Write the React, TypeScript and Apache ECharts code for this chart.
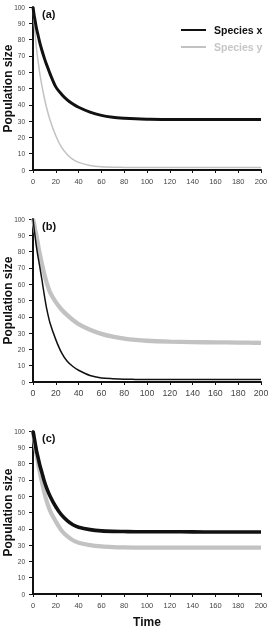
import React, { useEffect, useRef } from "react";
import * as echarts from "echarts";

const time = [0, 1, 2, 3, 4, 5, 6, 8, 10, 12, 15, 20, 25, 30, 35, 40, 50, 60, 70, 80, 90, 100, 120, 140, 160, 180, 200];

// Panel (a)
const aSpeciesX = [100, 95, 91, 87, 84, 81, 78, 73, 68.5, 64.5, 59, 51, 46.5, 43, 40.5, 38.5, 35.5, 33.5, 32.4, 31.8, 31.4, 31.2, 31, 31, 31, 31, 31];
const aSpeciesY = [100, 90, 82, 75, 69, 64, 59, 51, 44, 38, 30.5, 21, 14, 9.5, 6.5, 4.7, 2.8, 2, 1.7, 1.6, 1.5, 1.5, 1.5, 1.5, 1.5, 1.5, 1.5];
// Panel (b)
const bSpeciesX = [100, 94, 88.5, 83, 78.5, 74.5, 70.5, 62, 53, 45, 36, 26, 18, 12.7, 9.5, 7.2, 4, 2.5, 2, 1.7, 1.6, 1.5, 1.5, 1.5, 1.5, 1.5, 1.5];
const bSpeciesY = [100, 97, 93, 90, 86, 82, 78.5, 72, 66, 61, 55, 49, 44.5, 41, 38, 35.5, 32, 29.5, 27.8, 26.6, 25.8, 25.3, 24.8, 24.5, 24.3, 24.2, 24];
// Panel (c)
const cSpeciesX = [100, 96, 92, 88, 85, 82, 79, 74, 69, 65, 60, 53.5, 48.5, 45, 42.5, 41, 39.5, 38.7, 38.4, 38.3, 38.2, 38.2, 38.2, 38.1, 38, 38, 38];
const cSpeciesY = [100, 95, 90, 86, 82, 78, 74.5, 68, 62, 57, 51, 44.5, 39, 35.5, 33, 31.5, 30, 29.2, 28.8, 28.6, 28.5, 28.5, 28.5, 28.5, 28.5, 28.5, 28.5];

const panelLabels = ["(a)", "(b)", "(c)"];
const xTickFont = [7.5, 8.8, 7.5];
const seriesNames = ["Species x", "Species y"];

const BLACK = "#111111";
const GRAY = "#c2c2c2";
const FONT = "Liberation Sans, Arial, Helvetica, sans-serif";

const pair = (vals: number[]) => time.map((t, i) => [t, vals[i]]);

export default function App() {
  const ref = useRef<HTMLDivElement>(null);
  useEffect(() => {
    if (!ref.current) return;
    const chart = echarts.init(ref.current, undefined, { renderer: "svg" });
    const tops = [7, 219, 431];
    const grids = tops.map((top) => ({ left: 33, right: 12, top, height: 163, containLabel: false, outerBoundsMode: "none" }));
    const xAxes = tops.map((_, i) => ({
      type: "value",
      gridIndex: i,
      min: 0,
      max: 200,
      interval: 20,
      name: i === 2 ? "Time" : "",
      nameLocation: "middle",
      nameGap: 22,
      nameMoveOverlap: false,
      nameTextStyle: { fontFamily: FONT, fontWeight: "bold", fontSize: 12, color: "#111" },
      axisLine: { show: true, lineStyle: { color: "#111", width: 2 } },
      axisTick: { show: true, length: 3, lineStyle: { color: "#111", width: 1 } },
      axisLabel: { fontFamily: FONT, fontSize: xTickFont[i], color: "#444", margin: i === 1 ? 6 : 7 },
      splitLine: { show: false },
    }));
    const yAxes = tops.map((_, i) => ({
      type: "value",
      gridIndex: i,
      min: 0,
      max: 100,
      interval: 10,
      name: "Population size",
      nameLocation: "middle",
      nameRotate: 90,
      nameGap: 19,
      nameMoveOverlap: false,
      nameTextStyle: { fontFamily: FONT, fontWeight: "bold", fontSize: 12, color: "#111" },
      axisLine: { show: true, lineStyle: { color: "#111", width: 2 } },
      axisTick: { show: true, length: 4, lineStyle: { color: "#111", width: 1 } },
      axisLabel: { fontFamily: FONT, fontSize: 6.5, color: "#444", margin: 8 },
      splitLine: { show: false },
    }));
    const mk = (name: string, idx: number, vals: number[], color: string, width: number, z: number) => ({
      type: "line",
      name,
      xAxisIndex: idx,
      yAxisIndex: idx,
      data: pair(vals),
      symbol: "none",
      smooth: 0.3,
      z,
      lineStyle: { color, width },
      itemStyle: { color },
    });
    const series = [
      mk(seriesNames[0], 0, aSpeciesX, BLACK, 3.0, 3),
      mk(seriesNames[1], 0, aSpeciesY, GRAY, 1.5, 2),
      mk(seriesNames[0], 1, bSpeciesX, BLACK, 1.5, 3),
      mk(seriesNames[1], 1, bSpeciesY, GRAY, 4.3, 2),
      mk(seriesNames[0], 2, cSpeciesX, BLACK, 3.6, 3),
      mk(seriesNames[1], 2, cSpeciesY, GRAY, 4.2, 2),
    ];
    chart.setOption({
      animation: false,
      grid: grids,
      xAxis: xAxes,
      yAxis: yAxes,
      series,
      legend: {
        left: 176,
        top: 19,
        orient: "vertical",
        icon: "rect",
        itemWidth: 25,
        itemHeight: 2,
        itemGap: 5,
        textStyle: { fontFamily: FONT, fontWeight: "bold", fontSize: 10.5, color: "#111", padding: [0, 0, 0, 3], lineHeight: 12 },
        data: [
          { name: seriesNames[0], textStyle: { color: "#111" }, itemStyle: { color: BLACK } },
          { name: seriesNames[1], textStyle: { color: "#c6c6c6" }, itemStyle: { color: GRAY } },
        ],
      },
      graphic: tops.map((top, i) => ({
        type: "text",
        left: 42,
        top: top + 1,
        style: { text: panelLabels[i], font: `bold 11px ${FONT}`, fill: "#111" },
      })),
    });
    return () => chart.dispose();
  }, []);
  return <div ref={ref} style={{ position: "fixed", left: 0, top: 0, width: 273, height: 630 }} />;
}
